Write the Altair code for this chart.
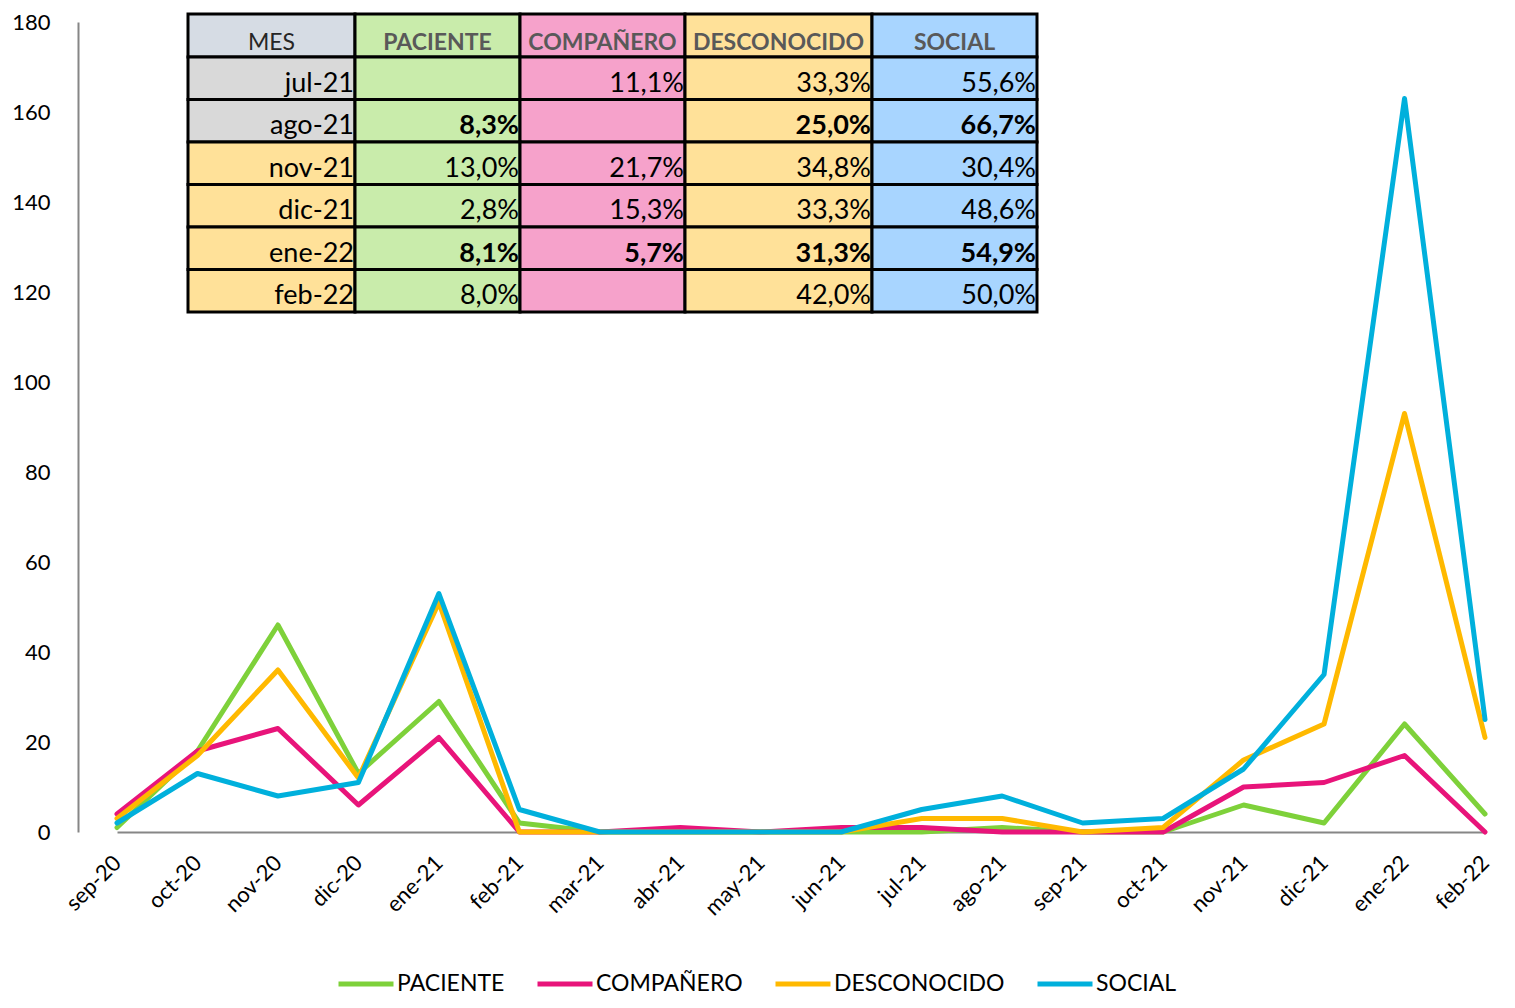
import altair as alt
import pandas as pd

# ---------------- data ----------------
months = ["sep-20", "oct-20", "nov-20", "dic-20", "ene-21", "feb-21", "mar-21", "abr-21",
          "may-21", "jun-21", "jul-21", "ago-21", "sep-21", "oct-21", "nov-21", "dic-21",
          "ene-22", "feb-22"]
paciente = [1, 18, 46, 13, 29, 2, 0, 0, 0, 0, 0, 1, 0, 0, 6, 2, 24, 4]
companero = [4, 18, 23, 6, 21, 0, 0, 1, 0, 1, 1, 0, 0, 0, 10, 11, 17, 0]
desconocido = [3, 17, 36, 12, 51, 0, 0, 0, 0, 0, 3, 3, 0, 1, 16, 24, 93, 21]
social = [2, 13, 8, 11, 53, 5, 0, 0, 0, 0, 5, 8, 2, 3, 14, 35, 163, 25]

series_names = ["PACIENTE", "COMPAÑERO", "DESCONOCIDO", "SOCIAL"]
series_colors = ["#7ED13A", "#E8147A", "#FFB900", "#00B0DC"]

table_header = ["MES", "PACIENTE", "COMPAÑERO", "DESCONOCIDO", "SOCIAL"]
table_months = ["jul-21", "ago-21", "nov-21", "dic-21", "ene-22", "feb-22"]
tab_paciente = ["", "8,3%", "13,0%", "2,8%", "8,1%", "8,0%"]
tab_companero = ["11,1%", "", "21,7%", "15,3%", "5,7%", ""]
tab_desconocido = ["33,3%", "25,0%", "34,8%", "33,3%", "31,3%", "42,0%"]
tab_social = ["55,6%", "66,7%", "30,4%", "48,6%", "54,9%", "50,0%"]
bold_months = ["ago-21", "ene-22"]

# ---------------- styles / layout ----------------
header_bg = ["#D6DCE4", "#C9ECAB", "#F6A2CB", "#FFE199", "#A8D5FF"]
column_bg = [None, "#C9ECAB", "#F6A2CB", "#FFE199", "#A8D5FF"]
month_bg = {"jul-21": "#D9D9D9", "ago-21": "#D9D9D9"}
month_bg_default = "#FFE199"
col_widths = [167, 165, 165, 187, 165]
row_heights = [43] + [42.5] * 6
FONT = "Lato"

# ---------------- line data ----------------
series_values = [paciente, companero, desconocido, social]
line_rows = []
for name, vals in zip(series_names, series_values):
    for m, v in zip(months, vals):
        line_rows.append({"mes": m, "serie": name, "valor": v})
df_lines = pd.DataFrame(line_rows)

# ---------------- table data ----------------
col_edges = [0]
for w in col_widths:
    col_edges.append(col_edges[-1] + w)
row_edges = [0]
for h in row_heights:
    row_edges.append(row_edges[-1] + h)

table_cols = [table_months, tab_paciente, tab_companero, tab_desconocido, tab_social]
cells = []
for c in range(5):
    cells.append({"x0": col_edges[c], "x1": col_edges[c + 1], "xm": (col_edges[c] + col_edges[c + 1]) / 2,
                  "y0": row_edges[0], "y1": row_edges[1], "bg": header_bg[c], "txt": table_header[c],
                  "style": "head_mes" if c == 0 else "head"})
for r, m in enumerate(table_months):
    for c in range(5):
        bg = month_bg.get(m, month_bg_default) if c == 0 else column_bg[c]
        if c == 0:
            style = "body"
        else:
            style = "bold" if m in bold_months else "body"
        cells.append({"x0": col_edges[c], "x1": col_edges[c + 1], "xm": (col_edges[c] + col_edges[c + 1]) / 2,
                      "y0": row_edges[r + 1], "y1": row_edges[r + 2], "bg": bg, "txt": table_cols[c][r],
                      "style": style})
df_table = pd.DataFrame(cells)

tx_scale = alt.Scale(domain=[0, col_edges[-1]], range=[110, 110 + col_edges[-1]], nice=False, zero=False)
ty_scale = alt.Scale(domain=[0, row_edges[-1]], range=[-8, -8 + row_edges[-1]], nice=False, zero=False)

# ---------------- charts ----------------
lines = alt.Chart(df_lines).mark_line(strokeWidth=5, strokeJoin="round", strokeCap="round").encode(
    x=alt.X("mes:N", sort=months,
            scale=alt.Scale(type="point", range=[39, 1407], padding=0),
            axis=alt.Axis(title=None, labelAngle=-45, labelAlign="right", labelBaseline="middle",
                          labelFontSize=22, labelFont=FONT, labelColor="black", labelPadding=27,
                          ticks=False, domainColor="#868686", domainWidth=2, grid=False,
                          labelOverlap=False)),
    y=alt.Y("valor:Q", scale=alt.Scale(domain=[0, 180], nice=False),
            axis=alt.Axis(title=None, values=list(range(0, 181, 20)), labelFontSize=22,
                          labelFont=FONT, labelColor="black", labelPadding=28, ticks=False,
                          domainColor="#868686", domainWidth=2, grid=False)),
    color=alt.Color("serie:N", sort=series_names,
                    scale=alt.Scale(domain=series_names, range=series_colors),
                    legend=alt.Legend(title=None, orient="none", legendX=258, legendY=932,
                                      direction="horizontal", symbolType="stroke", symbolSize=3025,
                                      symbolStrokeWidth=5, labelFontSize=23, labelFont=FONT,
                                      labelColor="black", columnPadding=22, labelOffset=1,
                                      labelLimit=0, padding=0, rowPadding=0)),
)

rects = alt.Chart(df_table).mark_rect(stroke="black", strokeWidth=3).encode(
    x=alt.X("x0:Q", scale=tx_scale, axis=None),
    x2="x1:Q",
    y=alt.Y("y0:Q", scale=ty_scale, axis=None),
    y2="y1:Q",
    fill=alt.Fill("bg:N", scale=None),
)

head_mes = alt.Chart(df_table).transform_filter(alt.datum.style == "head_mes").mark_text(
    font=FONT, fontSize=23, color="#262626", align="center", baseline="alphabetic", dy=-7
).encode(x=alt.X("xm:Q", scale=tx_scale, axis=None), y=alt.Y("y1:Q", scale=ty_scale, axis=None), text="txt:N")

head = alt.Chart(df_table).transform_filter(alt.datum.style == "head").mark_text(
    font=FONT, fontSize=23, fontWeight="bold", color="#595959", align="center", baseline="alphabetic", dy=-7
).encode(x=alt.X("xm:Q", scale=tx_scale, axis=None), y=alt.Y("y1:Q", scale=ty_scale, axis=None), text="txt:N")

body = alt.Chart(df_table).transform_filter(alt.datum.style == "body").mark_text(
    font=FONT, fontSize=27, color="black", align="right", baseline="alphabetic", dy=-8, dx=-1
).encode(x=alt.X("x1:Q", scale=tx_scale, axis=None), y=alt.Y("y1:Q", scale=ty_scale, axis=None), text="txt:N")

body_bold = alt.Chart(df_table).transform_filter(alt.datum.style == "bold").mark_text(
    font=FONT, fontSize=27, fontWeight="bold", color="black", align="right", baseline="alphabetic", dy=-8, dx=-1
).encode(x=alt.X("x1:Q", scale=tx_scale, axis=None), y=alt.Y("y1:Q", scale=ty_scale, axis=None), text="txt:N")

chart = alt.layer(lines, rects, head_mes, head, body, body_bold).resolve_scale(
    x="independent", y="independent", color="independent"
).properties(
    width=1429, height=810,
    background="white",
    autosize=alt.AutoSizeParams(type="none"),
    padding={"left": 70, "top": 14, "right": 0, "bottom": 166},
).configure_view(stroke=None)

chart.save("out.html", embed_options={"renderer": "svg", "actions": False})
